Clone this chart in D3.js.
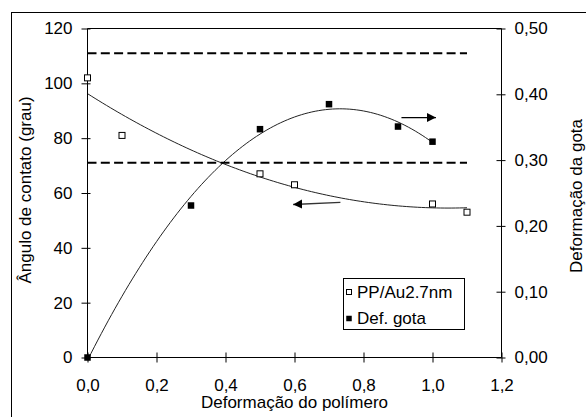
<!DOCTYPE html>
<html>
<head>
<meta charset="utf-8">
<script src="https://cdn.jsdelivr.net/npm/d3@7"></script>
<style>
  html, body { margin: 0; padding: 0; background: #fff; }
  svg { display: block; }
  text { font-family: "Liberation Sans", Arial, sans-serif; fill: #000; }
</style>
</head>
<body>
<svg id="chart" width="586" height="417"></svg>
<script>
// Polymer strain (x) vs. contact angle (left axis) and drop deformation (right axis)
const polymerStrain = [0, 0.1, 0.5, 0.6, 1.0, 1.1];
const contactAngle = [102, 81, 67, 63, 56, 53];

const dropStrain = [0, 0.3, 0.5, 0.7, 0.9, 1.0];
const dropDeformation = [0, 0.231, 0.347, 0.385, 0.351, 0.328];

// Horizontal reference levels (contact angle, degrees) over the strain range
const referenceAngles = [111, 71];
const referenceRange = [0, 1.1];

const xTicks = [0, 0.2, 0.4, 0.6, 0.8, 1.0, 1.2];
const xTickLabels = ["0,0", "0,2", "0,4", "0,6", "0,8", "1,0", "1,2"];
const leftTicks = [0, 20, 40, 60, 80, 100, 120];
const leftTickLabels = ["0", "20", "40", "60", "80", "100", "120"];
const rightTicks = [0, 0.1, 0.2, 0.3, 0.4, 0.5];
const rightTickLabels = ["0,00", "0,10", "0,20", "0,30", "0,40", "0,50"];

const seriesNames = ["PP/Au2.7nm", "Def. gota"];

const svg = d3.select("#chart");
const FONT = 17;

const x = d3.scaleLinear().domain([0, 1.2]).range([87.5, 501.5]);
const yL = d3.scaleLinear().domain([0, 120]).range([357.5, 28.5]);
const yR = d3.scaleLinear().domain([0, 0.5]).range([357.5, 28.5]);

// Outer chart frame
svg.append("rect")
  .attr("x", 11.5).attr("y", 12.5).attr("width", 700).attr("height", 600)
  .attr("fill", "none").attr("stroke", "#000").attr("stroke-width", 1);

// Plot box top edge
svg.append("line")
  .attr("x1", x(0)).attr("x2", x(1.2)).attr("y1", yL(120)).attr("y2", yL(120))
  .attr("stroke", "#000");

// Least-squares quadratic trend line
function quadFit(xs, ys) {
  let s = [0, 0, 0, 0, 0], t = [0, 0, 0];
  xs.forEach((xi, i) => {
    for (let k = 0; k <= 4; k++) s[k] += Math.pow(xi, k);
    for (let k = 0; k <= 2; k++) t[k] += Math.pow(xi, k) * ys[i];
  });
  const M = [[s[0], s[1], s[2], t[0]], [s[1], s[2], s[3], t[1]], [s[2], s[3], s[4], t[2]]];
  for (let c = 0; c < 3; c++) {
    for (let r = c + 1; r < 3; r++) {
      const f = M[r][c] / M[c][c];
      for (let k = c; k < 4; k++) M[r][k] -= f * M[c][k];
    }
  }
  const coef = [0, 0, 0];
  for (let r = 2; r >= 0; r--) {
    let v = M[r][3];
    for (let k = r + 1; k < 3; k++) v -= M[r][k] * coef[k];
    coef[r] = v / M[r][r];
  }
  return xv => coef[0] + coef[1] * xv + coef[2] * xv * xv;
}

svg.append("clipPath").attr("id", "plotClip")
  .append("rect").attr("x", x(0)).attr("y", yL(120))
  .attr("width", x(1.2) - x(0)).attr("height", yL(0) - yL(120));

const trendG = svg.append("g").attr("clip-path", "url(#plotClip)");

function drawTrend(xs, ys, yScale) {
  const f = quadFit(xs, ys);
  const lo = d3.min(xs), hi = d3.max(xs);
  const pts = d3.range(0, 101).map(i => lo + (hi - lo) * i / 100);
  trendG.append("path")
    .attr("d", d3.line().x(d => x(d)).y(d => yScale(f(d)))(pts))
    .attr("fill", "none").attr("stroke", "#222").attr("stroke-width", 1);
}
drawTrend(polymerStrain, contactAngle, yL);
drawTrend(dropStrain, dropDeformation, yR);

// Dashed reference levels
referenceAngles.forEach(a => {
  svg.append("line")
    .attr("x1", x(referenceRange[0])).attr("x2", x(referenceRange[1]))
    .attr("y1", yL(a)).attr("y2", yL(a))
    .attr("stroke", "#000").attr("stroke-width", 2)
    .attr("stroke-dasharray", "9,4.3");
});

// Axes
const leftAxis = svg.append("g").attr("transform", `translate(${x(0)},0)`)
  .call(d3.axisLeft(yL).tickValues(leftTicks).tickSize(5).tickPadding(0)
    .tickFormat((d, i) => leftTickLabels[i]));
leftAxis.selectAll(".tick line").attr("x1", -6).attr("x2", 3);
leftAxis.selectAll(".tick text").attr("x", -15);

const rightAxis = svg.append("g").attr("transform", `translate(${x(1.2)},0)`)
  .call(d3.axisRight(yR).tickValues(rightTicks).tickSize(5).tickPadding(0)
    .tickFormat((d, i) => rightTickLabels[i]));
rightAxis.selectAll(".tick line").attr("x1", -5).attr("x2", 4);
rightAxis.selectAll(".tick text").attr("x", 13);

const bottomAxis = svg.append("g").attr("transform", `translate(0,${yL(0)})`)
  .call(d3.axisBottom(x).tickValues(xTicks).tickSize(5).tickPadding(0)
    .tickFormat((d, i) => xTickLabels[i]));
bottomAxis.selectAll(".tick line").attr("y1", -5).attr("y2", 5);
bottomAxis.selectAll(".tick text").attr("y", 21);

[leftAxis, rightAxis, bottomAxis].forEach(g => {
  g.select(".domain").attr("stroke", "#000").attr("d", null);
  g.selectAll(".tick line").attr("stroke", "#000");
  g.selectAll("text").style("font-family", '"Liberation Sans", Arial, sans-serif')
    .style("font-size", FONT + "px").attr("fill", "#000");
});
// Axis lines without end caps
svg.append("line").attr("x1", x(0)).attr("x2", x(0)).attr("y1", yL(0)).attr("y2", yL(120)).attr("stroke", "#000");
svg.append("line").attr("x1", x(1.2)).attr("x2", x(1.2)).attr("y1", yL(0)).attr("y2", yL(120)).attr("stroke", "#000");
svg.append("line").attr("x1", x(0)).attr("x2", x(1.2)).attr("y1", yL(0)).attr("y2", yL(0)).attr("stroke", "#000");

// Markers
const S1 = 6, S2 = 6.5;
svg.append("g").selectAll("rect").data(polymerStrain.map((d, i) => [d, contactAngle[i]]))
  .join("rect")
  .attr("x", d => x(d[0]) - S1 / 2).attr("y", d => yL(d[1]) - S1 / 2)
  .attr("width", S1).attr("height", S1)
  .attr("fill", "#fff").attr("stroke", "#000").attr("stroke-width", 1);

svg.append("g").selectAll("rect").data(dropStrain.map((d, i) => [d, dropDeformation[i]]))
  .join("rect")
  .attr("x", d => x(d[0]) - S2 / 2).attr("y", d => yR(d[1]) - S2 / 2)
  .attr("width", S2).attr("height", S2)
  .attr("fill", "#000");

// Direction arrows pointing to each series' axis
const defs = svg.append("defs");
defs.append("marker").attr("id", "head")
  .attr("viewBox", "0 0 10 10").attr("refX", 10).attr("refY", 5)
  .attr("markerWidth", 9).attr("markerHeight", 10).attr("markerUnits", "userSpaceOnUse")
  .attr("orient", "auto")
  .append("path").attr("d", "M0,0 L10,5 L0,10 Z").attr("fill", "#000");

svg.append("line")
  .attr("x1", x(0.91)).attr("y1", yR(0.3646))
  .attr("x2", x(1.01)).attr("y2", yR(0.3646))
  .attr("stroke", "#000").attr("stroke-width", 1.3)
  .attr("marker-end", "url(#head)");

svg.append("line")
  .attr("x1", x(0.733)).attr("y1", yL(56.6))
  .attr("x2", x(0.596)).attr("y2", yL(55.8))
  .attr("stroke", "#333").attr("stroke-width", 1.3)
  .attr("marker-end", "url(#head)");

// Legend
const lg = svg.append("g");
lg.append("rect").attr("x", 343.5).attr("y", 278.5).attr("width", 121).attr("height", 51)
  .attr("fill", "#fff").attr("stroke", "#000");
lg.append("rect").attr("x", 349 - 2.5).attr("y", 292 - 2.5).attr("width", 5).attr("height", 5)
  .attr("fill", "#fff").attr("stroke", "#000");
lg.append("rect").attr("x", 349 - 2.75).attr("y", 318.5 - 2.75).attr("width", 5.5).attr("height", 5.5)
  .attr("fill", "#000");
lg.append("text").attr("x", 357).attr("y", 297.5).style("font-size", FONT + "px").text(seriesNames[0]);
lg.append("text").attr("x", 357).attr("y", 323.5).style("font-size", FONT + "px").text(seriesNames[1]);

// Axis titles
svg.append("text").attr("x", x(0.6)).attr("y", 408).attr("text-anchor", "middle")
  .style("font-size", FONT + "px").text("Deformação do polímero");
svg.append("text").attr("transform", "translate(31,190) rotate(-90)").attr("text-anchor", "middle")
  .style("font-size", FONT + "px").text("Ângulo de contato (grau)");
svg.append("text").attr("transform", "translate(581.5,196) rotate(-90)").attr("text-anchor", "middle")
  .style("font-size", FONT + "px").text("Deformação da gota");
</script>
</body>
</html>
